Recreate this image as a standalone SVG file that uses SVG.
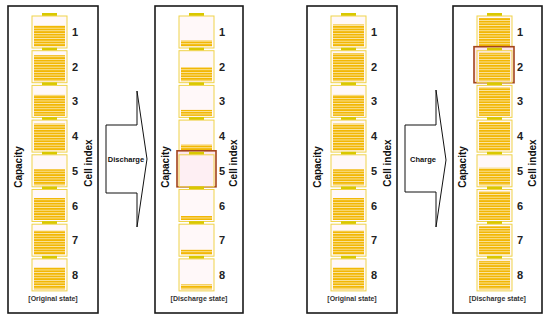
<svg xmlns="http://www.w3.org/2000/svg" width="550" height="319" viewBox="0 0 550 319">
<defs>
<pattern id="st" patternUnits="userSpaceOnUse" x="0" y="0" width="4" height="2.6">
<rect x="0" y="0" width="4" height="1.8" fill="#f2b705"/>
<rect x="0" y="1.8" width="4" height="0.8" fill="#fbe6a6"/>
</pattern>
</defs>
<style>
.box{fill:#fff;stroke:#1a1a1a;stroke-width:1.6}
.cell{fill:#fff8f9;stroke:#efd34a;stroke-width:1}
.term{fill:#d9c800}
.num{font-family:"Liberation Sans",Arial,sans-serif;font-weight:bold;font-size:11px;fill:#222;text-anchor:middle}
.ax{font-family:"Liberation Sans",Arial,sans-serif;font-weight:bold;font-size:10px;fill:#111;text-anchor:middle}
.state{font-family:"Liberation Sans",Arial,sans-serif;font-weight:bold;font-size:7px;fill:#333;text-anchor:middle}
.arr{fill:#fff;stroke:#111;stroke-width:1}
.alab{font-family:"Liberation Sans",Arial,sans-serif;font-weight:bold;font-size:7.5px;fill:#111;text-anchor:middle}
.hl{fill:#fde6ec;stroke:#a3441c;stroke-width:1.6}
</style>

<g id="connectors">
<polygon class="arr" points="106,125 137,125 137,91 147,159 137,227 137,193 106,193"/>
<text class="alab" x="126" y="162">Discharge</text>
<polygon class="arr" points="405,125 436,125 436,90 446,160 436,227 436,192 405,192"/>
<text class="alab" x="423" y="162">Charge</text>
</g>

<!-- Panel 1: original state -->
<g id="panel-original-1">
<rect class="box" x="8" y="6" width="90" height="307"/>
<text class="ax" transform="translate(21.5,167) rotate(-90)">Capacity</text>
<text class="ax" transform="translate(91.5,163) rotate(-90)">Cell index</text>
<text class="state" x="53" y="301">[Original state]</text>
<g id="p1-cell1"><rect class="term" x="42" y="13" width="15" height="3"/><rect class="cell" x="32" y="16" width="35" height="32"/><rect x="34" y="25.5" width="31" height="21" fill="url(#st)"/><text class="num" x="75" y="36">1</text></g>
<g id="p1-cell2"><rect class="term" x="42" y="47.7" width="15" height="3"/><rect class="cell" x="32" y="50.7" width="35" height="32"/><rect x="34" y="55.2" width="31" height="26" fill="url(#st)"/><text class="num" x="75" y="70.7">2</text></g>
<g id="p1-cell3"><rect class="term" x="42" y="82.4" width="15" height="3"/><rect class="cell" x="32" y="85.4" width="35" height="32"/><rect x="34" y="94.9" width="31" height="21" fill="url(#st)"/><text class="num" x="75" y="105.4">3</text></g>
<g id="p1-cell4"><rect class="term" x="42" y="117.1" width="15" height="3"/><rect class="cell" x="32" y="120.1" width="35" height="32"/><rect x="34" y="123.6" width="31" height="27" fill="url(#st)"/><text class="num" x="75" y="140.1">4</text></g>
<g id="p1-cell5"><rect class="term" x="42" y="151.8" width="15" height="3"/><rect class="cell" x="32" y="154.8" width="35" height="32"/><rect x="34" y="169.3" width="31" height="16" fill="url(#st)"/><text class="num" x="75" y="174.8">5</text></g>
<g id="p1-cell6"><rect class="term" x="42" y="186.5" width="15" height="3"/><rect class="cell" x="32" y="189.5" width="35" height="32"/><rect x="34" y="198" width="31" height="22" fill="url(#st)"/><text class="num" x="75" y="209.5">6</text></g>
<g id="p1-cell7"><rect class="term" x="42" y="221.2" width="15" height="3"/><rect class="cell" x="32" y="224.2" width="35" height="32"/><rect x="34" y="230.7" width="31" height="24" fill="url(#st)"/><text class="num" x="75" y="244.2">7</text></g>
<g id="p1-cell8"><rect class="term" x="42" y="255.9" width="15" height="3"/><rect class="cell" x="32" y="258.9" width="35" height="32"/><rect x="34" y="267.4" width="31" height="22" fill="url(#st)"/><text class="num" x="75" y="278.9">8</text></g>
</g>

<!-- Panel 2: discharge state -->
<g id="panel-discharge" transform="translate(147,0)">
<rect class="box" x="8" y="6" width="88" height="307"/>
<text class="ax" transform="translate(21.5,167) rotate(-90)">Capacity</text>
<text class="ax" transform="translate(89.5,163) rotate(-90)">Cell index</text>
<text class="state" x="52" y="301">[Discharge state]</text>
<g id="p2-cell1"><rect class="term" x="42" y="13" width="15" height="3"/><rect class="cell" x="32" y="16" width="35" height="32"/><rect x="34" y="40.5" width="31" height="6" fill="url(#st)"/><text class="num" x="75" y="36">1</text></g>
<g id="p2-cell2"><rect class="term" x="42" y="47.7" width="15" height="3"/><rect class="cell" x="32" y="50.7" width="35" height="32"/><rect x="34" y="67.2" width="31" height="14" fill="url(#st)"/><text class="num" x="75" y="70.7">2</text></g>
<g id="p2-cell3"><rect class="term" x="42" y="82.4" width="15" height="3"/><rect class="cell" x="32" y="85.4" width="35" height="32"/><rect x="34" y="109.9" width="31" height="6" fill="url(#st)"/><text class="num" x="75" y="105.4">3</text></g>
<g id="p2-cell4"><rect class="term" x="42" y="117.1" width="15" height="3"/><rect class="cell" x="32" y="120.1" width="35" height="32"/><rect x="34" y="144.6" width="31" height="6" fill="url(#st)"/><text class="num" x="75" y="140.1">4</text></g>
<g id="p2-cell5"><rect class="hl" x="30" y="150.8" width="39" height="36"/><rect class="term" x="42" y="151.8" width="15" height="3"/><rect class="cell" x="32" y="154.8" width="35" height="32" fill-opacity="0.5"/><text class="num" x="75" y="174.8">5</text></g>
<g id="p2-cell6"><rect class="term" x="42" y="186.5" width="15" height="3"/><rect class="cell" x="32" y="189.5" width="35" height="32"/><rect x="34" y="216" width="31" height="4" fill="url(#st)"/><text class="num" x="75" y="209.5">6</text></g>
<g id="p2-cell7"><rect class="term" x="42" y="221.2" width="15" height="3"/><rect class="cell" x="32" y="224.2" width="35" height="32"/><rect x="34" y="249.7" width="31" height="5" fill="url(#st)"/><text class="num" x="75" y="244.2">7</text></g>
<g id="p2-cell8"><rect class="term" x="42" y="255.9" width="15" height="3"/><rect class="cell" x="32" y="258.9" width="35" height="32"/><rect x="34" y="284.4" width="31" height="5" fill="url(#st)"/><text class="num" x="75" y="278.9">8</text></g>
</g>

<!-- Panel 3: original state -->
<g id="panel-original-2" transform="translate(299,0)">
<rect class="box" x="8" y="6" width="90" height="307"/>
<text class="ax" transform="translate(21.5,167) rotate(-90)">Capacity</text>
<text class="ax" transform="translate(91.5,163) rotate(-90)">Cell index</text>
<text class="state" x="53" y="301">[Original state]</text>
<g id="p3-cell1"><rect class="term" x="42" y="13" width="15" height="3"/><rect class="cell" x="32" y="16" width="35" height="32"/><rect x="34" y="24.5" width="31" height="22" fill="url(#st)"/><text class="num" x="75" y="36">1</text></g>
<g id="p3-cell2"><rect class="term" x="42" y="47.7" width="15" height="3"/><rect class="cell" x="32" y="50.7" width="35" height="32"/><rect x="34" y="53.2" width="31" height="28" fill="url(#st)"/><text class="num" x="75" y="70.7">2</text></g>
<g id="p3-cell3"><rect class="term" x="42" y="82.4" width="15" height="3"/><rect class="cell" x="32" y="85.4" width="35" height="32"/><rect x="34" y="94.9" width="31" height="21" fill="url(#st)"/><text class="num" x="75" y="105.4">3</text></g>
<g id="p3-cell4"><rect class="term" x="42" y="117.1" width="15" height="3"/><rect class="cell" x="32" y="120.1" width="35" height="32"/><rect x="34" y="123.6" width="31" height="27" fill="url(#st)"/><text class="num" x="75" y="140.1">4</text></g>
<g id="p3-cell5"><rect class="term" x="42" y="151.8" width="15" height="3"/><rect class="cell" x="32" y="154.8" width="35" height="32"/><rect x="34" y="169.3" width="31" height="16" fill="url(#st)"/><text class="num" x="75" y="174.8">5</text></g>
<g id="p3-cell6"><rect class="term" x="42" y="186.5" width="15" height="3"/><rect class="cell" x="32" y="189.5" width="35" height="32"/><rect x="34" y="198" width="31" height="22" fill="url(#st)"/><text class="num" x="75" y="209.5">6</text></g>
<g id="p3-cell7"><rect class="term" x="42" y="221.2" width="15" height="3"/><rect class="cell" x="32" y="224.2" width="35" height="32"/><rect x="34" y="230.7" width="31" height="24" fill="url(#st)"/><text class="num" x="75" y="244.2">7</text></g>
<g id="p3-cell8"><rect class="term" x="42" y="255.9" width="15" height="3"/><rect class="cell" x="32" y="258.9" width="35" height="32"/><rect x="34" y="267.4" width="31" height="22" fill="url(#st)"/><text class="num" x="75" y="278.9">8</text></g>
</g>

<!-- Panel 4: charge result -->
<g id="panel-charge" transform="translate(445,0)">
<rect class="box" x="8" y="6" width="89" height="307"/>
<text class="ax" transform="translate(20.5,167) rotate(-90)">Capacity</text>
<text class="ax" transform="translate(90.5,163) rotate(-90)">Cell index</text>
<text class="state" x="52.5" y="301">[Discharge state]</text>
<g id="p4-cell1"><rect class="term" x="42" y="13" width="15" height="3"/><rect class="cell" x="32" y="16" width="35" height="32"/><rect x="34" y="18" width="31" height="28.5" fill="url(#st)"/><text class="num" x="75" y="36">1</text></g>
<g id="p4-cell2"><rect class="hl" x="29" y="46.7" width="40" height="36"/><rect class="term" x="42" y="47.7" width="15" height="3"/><rect class="cell" x="32" y="50.7" width="35" height="32" fill-opacity="0.5"/><rect x="34" y="52.7" width="31" height="28.5" fill="url(#st)"/><text class="num" x="75" y="70.7">2</text></g>
<g id="p4-cell3"><rect class="term" x="42" y="82.4" width="15" height="3"/><rect class="cell" x="32" y="85.4" width="35" height="32"/><rect x="34" y="87.4" width="31" height="28.5" fill="url(#st)"/><text class="num" x="75" y="105.4">3</text></g>
<g id="p4-cell4"><rect class="term" x="42" y="117.1" width="15" height="3"/><rect class="cell" x="32" y="120.1" width="35" height="32"/><rect x="34" y="122.1" width="31" height="28.5" fill="url(#st)"/><text class="num" x="75" y="140.1">4</text></g>
<g id="p4-cell5"><rect class="term" x="42" y="151.8" width="15" height="3"/><rect class="cell" x="32" y="154.8" width="35" height="32"/><rect x="34" y="167.8" width="31" height="17.5" fill="url(#st)"/><text class="num" x="75" y="174.8">5</text></g>
<g id="p4-cell6"><rect class="term" x="42" y="186.5" width="15" height="3"/><rect class="cell" x="32" y="189.5" width="35" height="32"/><rect x="34" y="191.5" width="31" height="28.5" fill="url(#st)"/><text class="num" x="75" y="209.5">6</text></g>
<g id="p4-cell7"><rect class="term" x="42" y="221.2" width="15" height="3"/><rect class="cell" x="32" y="224.2" width="35" height="32"/><rect x="34" y="226.2" width="31" height="28.5" fill="url(#st)"/><text class="num" x="75" y="244.2">7</text></g>
<g id="p4-cell8"><rect class="term" x="42" y="255.9" width="15" height="3"/><rect class="cell" x="32" y="258.9" width="35" height="32"/><rect x="34" y="260.9" width="31" height="28.5" fill="url(#st)"/><text class="num" x="75" y="278.9">8</text></g>
</g>
</svg>
